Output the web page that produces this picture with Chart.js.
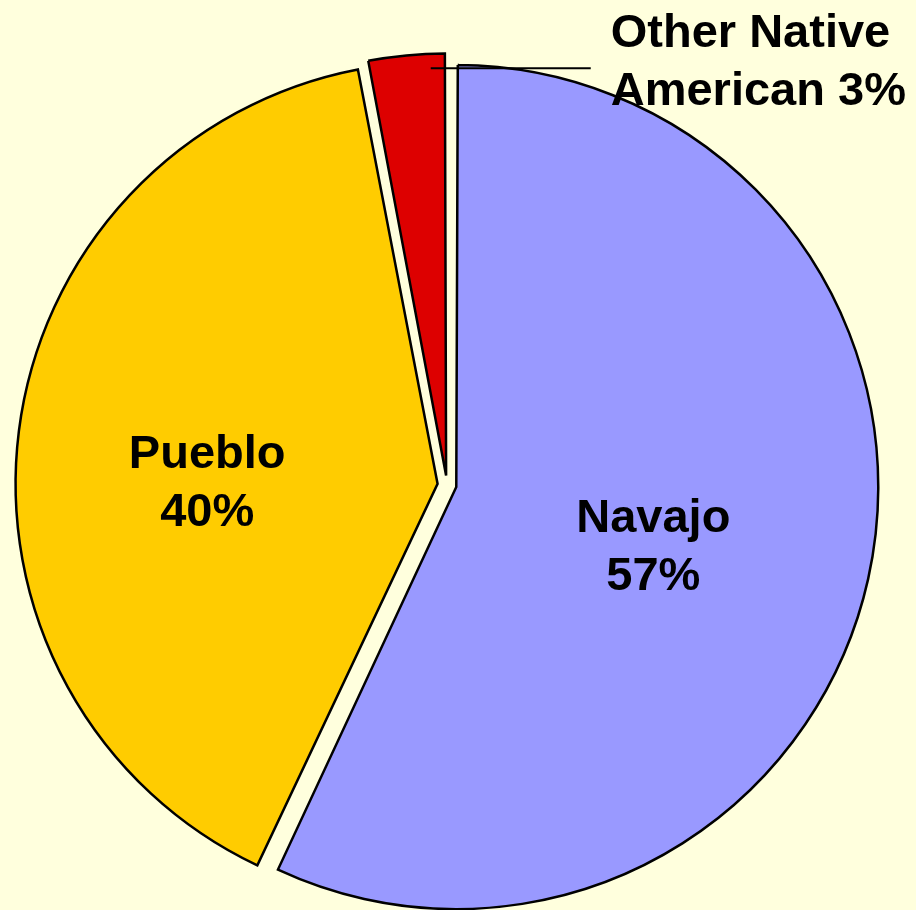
<!DOCTYPE html>
<html>
<head>
<meta charset="utf-8">
<title>Native American population</title>
<style>
  html, body { margin: 0; padding: 0; background: #FFFFDD; }
  canvas { display: block; }
</style>
<script src="https://cdn.jsdelivr.net/npm/chart.js@4.4.1/dist/chart.umd.min.js"></script>
</head>
<body>
<canvas id="c" width="916" height="910"></canvas>
<script>
// Shares of the Native American population by group (percent)
const categories = ['Navajo', 'Pueblo', 'Other Native American'];
const shares = [57, 40, 3];
const sliceColors = ['#9999FF', '#FFCC00', '#DD0000'];

// Label text, one array of lines per slice
const labelLines = [
  [categories[0], shares[0] + '%'],
  [categories[1], shares[1] + '%'],
  ['Other Native', 'American ' + shares[2] + '%']
];

const EXPLODE = 38;          // Chart.js shifts each arc by offset / 4
const RADIUS = 422;
const FONT_PX = 47;
const LINE_H = 58;
const CAP_H = FONT_PX * 0.716;

// Where each label sits: inside the slice (radius fraction + angular nudge)
// or outside with a horizontal leader line
const labelPlacement = [
  { mode: 'inside', r: 0.486, turnDeg: 3.5 },
  { mode: 'inside', r: 0.546, turnDeg: -6.4 },
  { mode: 'leader', r: 0.966, along: 0.8, run: 160, gap: 20, rise: 9 }
];

// Chart.js grows exploded arcs by part of their offset; keep all slices the same radius
const evenRadius = {
  id: 'evenRadius',
  afterDatasetUpdate(chart, args) {
    const meta = chart.getDatasetMeta(args.index);
    meta.data.forEach(arc => {
      const circ = arc.endAngle - arc.startAngle;
      const fix = 1 - Math.sin(Math.min(Math.PI, circ));
      arc.outerRadius = RADIUS - (EXPLODE / 4) * fix;
    });
  }
};

const sliceLabels = {
  id: 'sliceLabels',
  afterDatasetsDraw(chart) {
    const ctx = chart.ctx;
    const arcs = chart.getDatasetMeta(0).data;
    ctx.save();
    ctx.font = 'bold ' + FONT_PX + 'px "Liberation Sans", Arial, sans-serif';
    ctx.fillStyle = '#000';
    ctx.strokeStyle = '#000';
    ctx.textBaseline = 'alphabetic';
    arcs.forEach((arc, i) => {
      const p = labelPlacement[i];
      const lines = labelLines[i];
      const mid = (arc.startAngle + arc.endAngle) / 2;
      const shift = EXPLODE / 4;
      const ax = arc.x + Math.cos(mid) * shift;
      const ay = arc.y + Math.sin(mid) * shift;
      const R = RADIUS;
      let cx, cy;
      if (p.mode === 'inside') {
        const a = mid + p.turnDeg * Math.PI / 180;
        cx = ax + Math.cos(a) * p.r * R;
        cy = ay + Math.sin(a) * p.r * R;
        ctx.textAlign = 'center';
      } else {
        const a = arc.startAngle + (arc.endAngle - arc.startAngle) * p.along;
        const sx = ax + Math.cos(a) * p.r * R;
        const sy = ay + Math.sin(a) * p.r * R;
        ctx.lineWidth = 2;
        ctx.beginPath();
        ctx.moveTo(sx, sy);
        ctx.lineTo(sx + p.run, sy);
        ctx.stroke();
        cx = sx + p.run + p.gap;
        cy = sy - p.rise;
        ctx.textAlign = 'left';
      }
      const first = cy - (lines.length - 1) * LINE_H / 2 + CAP_H / 2;
      lines.forEach((t, k) => ctx.fillText(t, cx, first + k * LINE_H));
    });
    ctx.restore();
  }
};

new Chart(document.getElementById('c'), {
  type: 'pie',
  data: {
    labels: categories,
    datasets: [{
      data: shares,
      backgroundColor: sliceColors,
      borderColor: '#000000',
      borderWidth: 2.5,
      borderJoinStyle: 'miter',
      offset: EXPLODE,
      hoverOffset: 0,
      radius: RADIUS,
      clip: false
    }]
  },
  options: {
    responsive: false,
    animation: false,
    events: [],
    layout: { padding: { left: 0, right: 22, top: 60, bottom: 0 } },
    plugins: {
      legend: { display: false },
      tooltip: { enabled: false }
    }
  },
  plugins: [evenRadius, sliceLabels]
});
</script>
</body>
</html>
